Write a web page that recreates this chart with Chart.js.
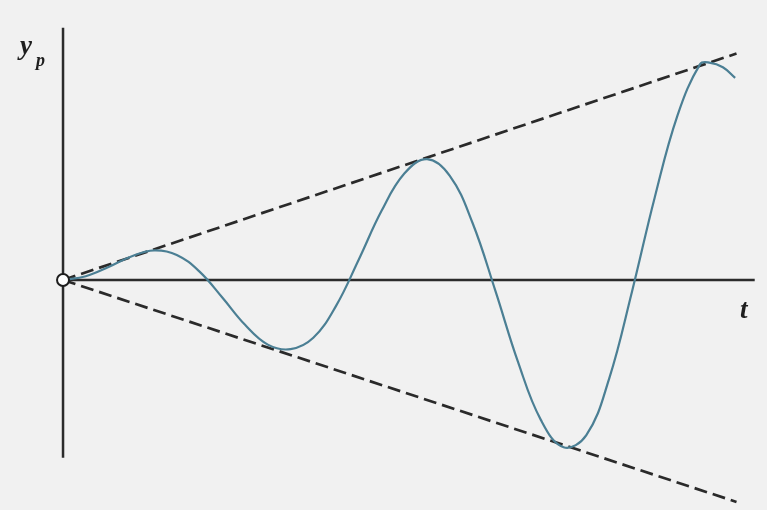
<!DOCTYPE html>
<html>
<head>
<meta charset="utf-8">
<script src="https://cdn.jsdelivr.net/npm/chart.js"></script>
<style>
  body { margin: 0; background: #f1f1f1; }
  #wrap { width: 767px; height: 510px; }
</style>
</head>
<body>
<div id="wrap"><canvas id="myChart" width="767" height="510"></canvas></div>
<script>
// 공진 응답 y_p(t) : 시간 t 에 따라 진폭이 선형으로 커지는 곡선
const tValues = [0, 0.5, 1, 1.5, 2, 2.5, 3, 3.5, 4, 4.5, 5, 5.5, 6, 6.5, 7, 7.5,
  8, 8.5, 9, 9.5, 10, 10.5, 11, 11.5, 12, 12.5, 13, 13.5, 14, 14.2, 14.5, 14.77];
const ypValues = [0, 0.25, 0.85, 1.55, 1.95, 1.65, 0.55, -1.15, -2.95, -4.25, -4.55, -3.8,
  -1.7, 1.35, 4.55, 7.0, 7.95, 6.85, 3.75, -0.7, -5.4, -9.2, -11.0, -10.2, -6.5, -0.8,
  5.4, 10.8, 14.2, 14.3, 14.0, 13.3];

// 포락선 (점선) : 원점에서 시작하는 두 직선
const envT = [0, 14.8];
const envUpper = [0, 14.9];
const envLower = [0, -14.6];

// 축 범위
const X_MIN = -1.385, X_MAX = 15.47;
const Y_MIN = -15.13, Y_MAX = 18.42;
const T_AXIS_END = 15.2;
const Y_AXIS_TOP = 16.6, Y_AXIS_BOTTOM = -11.7;

function toPoints(xs, ys) {
  return xs.map((x, i) => ({ x: x, y: ys[i] }));
}

// 배경, 좌표축, 축 이름 그리기
const axesPlugin = {
  id: "axesPlugin",
  beforeDraw(chart) {
    const ctx = chart.ctx;
    ctx.save();
    ctx.fillStyle = "#f1f1f1";
    ctx.fillRect(0, 0, chart.width, chart.height);
    ctx.restore();
  },
  beforeDatasetsDraw(chart) {
    const { ctx, scales } = chart;
    const sx = scales.x, sy = scales.y;
    ctx.save();
    ctx.strokeStyle = "#2b2b2b";
    ctx.lineWidth = 2.5;
    ctx.beginPath();
    ctx.moveTo(sx.getPixelForValue(0), sy.getPixelForValue(Y_AXIS_TOP));
    ctx.lineTo(sx.getPixelForValue(0), sy.getPixelForValue(Y_AXIS_BOTTOM));
    ctx.moveTo(sx.getPixelForValue(0), sy.getPixelForValue(0));
    ctx.lineTo(sx.getPixelForValue(T_AXIS_END), sy.getPixelForValue(0));
    ctx.stroke();

    ctx.fillStyle = "#1e1e1e";
    ctx.font = "italic bold 27px 'Liberation Serif', serif";
    ctx.fillText("y", 20, 54);
    ctx.font = "italic bold 18px 'Liberation Serif', serif";
    ctx.fillText("p", 36, 66);
    ctx.font = "italic bold 27px 'Liberation Serif', serif";
    ctx.fillText("t", 740, 318);
    ctx.restore();
  },
};

const chartData = {
  datasets: [
    {
      label: "origin",
      data: [{ x: 0, y: 0 }],
      showLine: false,
      pointRadius: 6,
      pointBackgroundColor: "#ffffff",
      pointBorderColor: "#1e1e1e",
      pointBorderWidth: 2,
      order: 0,
    },
    {
      label: "y_p",
      data: toPoints(tValues, ypValues),
      showLine: true,
      borderColor: "#4b7f94",
      borderWidth: 2.2,
      pointRadius: 0,
      tension: 0.4,
      order: 1,
    },
    {
      label: "upper",
      data: toPoints(envT, envUpper),
      showLine: true,
      borderColor: "#2a2a2a",
      borderWidth: 2.7,
      borderDash: [13, 6],
      pointRadius: 0,
      order: 2,
    },
    {
      label: "lower",
      data: toPoints(envT, envLower),
      showLine: true,
      borderColor: "#2a2a2a",
      borderWidth: 2.7,
      borderDash: [13, 6],
      pointRadius: 0,
      order: 2,
    },
  ],
};

const chartOptions = {
  responsive: false,
  animation: false,
  layout: { padding: 0, autoPadding: false },
  plugins: {
    legend: { display: false },
    tooltip: { enabled: false },
  },
  scales: {
    x: { type: "linear", min: X_MIN, max: X_MAX, display: false },
    y: { type: "linear", min: Y_MIN, max: Y_MAX, display: false },
  },
};

const ctx = document.getElementById("myChart").getContext("2d");
const myChart = new Chart(ctx, {
  type: "scatter",
  data: chartData,
  options: chartOptions,
  plugins: [axesPlugin],
});
</script>
</body>
</html>
